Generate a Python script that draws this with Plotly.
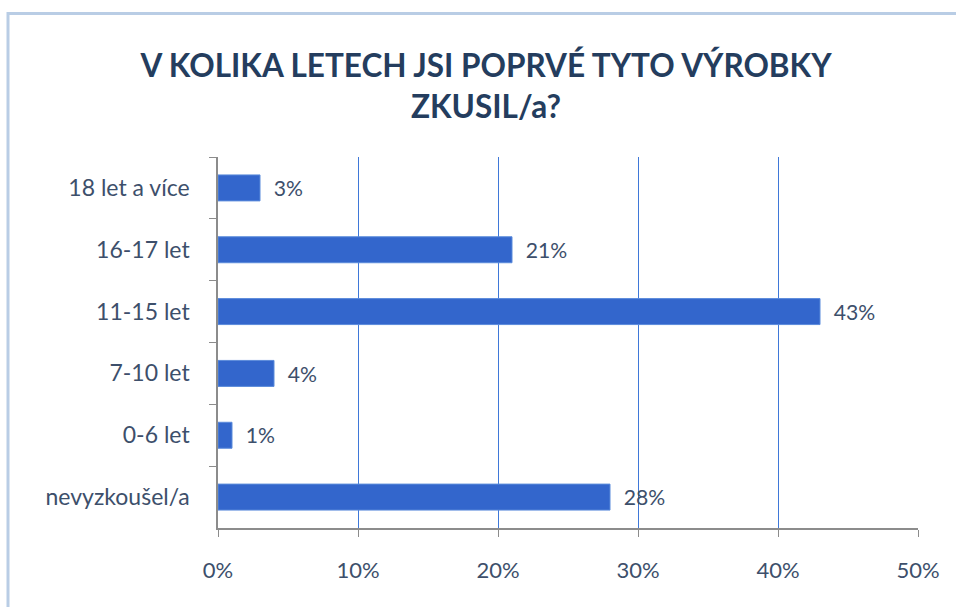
import plotly.graph_objects as go

categories = ["18 let a více", "16-17 let", "11-15 let", "7-10 let", "0-6 let", "nevyzkoušel/a"]
values = [0.03, 0.21, 0.43, 0.04, 0.01, 0.28]
x_ticks = [0, 0.1, 0.2, 0.3, 0.4, 0.5]
x_tick_labels = ["0%", "10%", "20%", "30%", "40%", "50%"]
title_text = "V KOLIKA LETECH JSI POPRVÉ TYTO VÝROBKY<br>ZKUSIL/a?"

W, H = 956, 607
L, R, T, B = 218, 38, 157, 79
pw, ph = W - L - R, H - T - B

txt_col = "#3D4F6B"
font_fam = "Lato, 'Open Sans', sans-serif"

fig = go.Figure(go.Bar(
    y=categories, x=values, orientation="h",
    marker=dict(color="#3366CC", line=dict(color="#5B8BDB", width=1)),
    text=["  " + f"{round(v*100)}%" for v in values],
    textposition="outside", cliponaxis=False,
    textfont=dict(family=font_fam, size=22, color=txt_col),
    width=0.42,
))

def px_x(p):
    return (p - L) / pw

def px_y(p):
    return (H - B - p) / ph

fig.update_layout(
    width=W, height=H,
    margin=dict(l=L, r=R, t=T, b=B),
    paper_bgcolor="white", plot_bgcolor="white",
    showlegend=False,
    title=dict(text=title_text, x=486 / W, xref="container", xanchor="center",
               y=1 - 77 / H, yanchor="middle",
               font=dict(family=font_fam, size=31.5, color="#243D5E", weight="bold")),
    xaxis=dict(range=[0, 0.5], tickvals=x_ticks, ticktext=x_tick_labels,
               showgrid=True, gridcolor="#3F78D8", gridwidth=1.2,
               showline=True, linecolor="#8C8C8C", linewidth=1.5,
               ticks="outside", ticklen=7, tickcolor="#8C8C8C",
               ticklabelstandoff=15, zeroline=False,
               tickfont=dict(family=font_fam, size=22, color=txt_col)),
    yaxis=dict(autorange="reversed", showgrid=False,
               showline=True, linecolor="#8C8C8C", linewidth=1.5,
               ticks="outside", ticklen=7, tickcolor="#8C8C8C", tickson="boundaries",
               ticklabelstandoff=22,
               tickfont=dict(family=font_fam, size=23, color=txt_col)),
    shapes=[dict(type="rect", xref="paper", yref="paper",
                 x0=px_x(8), x1=px_x(1000), y0=px_y(700), y1=px_y(13.5),
                 line=dict(color="#B9CDE5", width=3), fillcolor="rgba(0,0,0,0)", layer="below")],
)

fig.write_html("out.html", config={"displayModeBar": False},
               post_script="document.body.style.margin='0';")
